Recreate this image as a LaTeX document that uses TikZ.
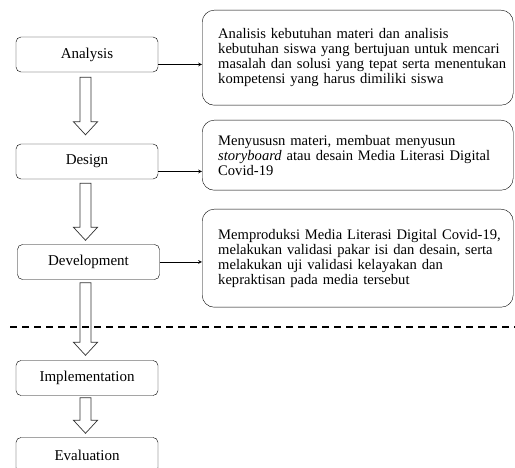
\documentclass[tikz,border=0pt]{standalone}
\usepackage{fontspec}
\setmainfont{Liberation Serif}
\usetikzlibrary{calc}

\newcommand\keepline[1]{\mbox{#1}}
\newcommand\hollowarrow[2]{%
\draw[blockarrow] let \p1=(#1), \p2=(#2) in
 (\x1-5.5pt,\y1) -- (\x1-5.5pt,\y2+13pt) -- (\x1-12pt,\y2+13pt) -- (\x1,\y2)
 -- (\x1+12pt,\y2+13pt) -- (\x1+5.5pt,\y2+13pt) -- (\x1+5.5pt,\y1) -- cycle;}

\begin{document}
\begin{tikzpicture}
[
x = 1pt, y = -1pt,
>=stealth,
phase/.style = {draw, rounded corners = 5pt, minimum width = 142pt, minimum height = 35pt,
  inner sep = 0pt, font = \fontsize{15}{15}\selectfont},
descbox/.style = {draw, rounded corners = 12pt, anchor = north west, align = left,
  text width = 279pt, inner xsep = 16pt, inner ysep = 0pt, font = \fontsize{14.6}{15}\selectfont},
blockarrow/.style = {draw = black!80, line width = 0.7pt, fill = white},
link/.style = {->, line width = 0.7pt},
]

\clip (0,0) rectangle (515,468);

\node (ana) at (87,54.5) [phase] {Analysis};
\node (des) at (87,161.5) [phase] {Design};
\node (dev) at (88.5,262) [phase] {Development};
\node (imp) at (87,378) [phase] {Implementation};
\node (eva) at (87,455) [phase] {Evaluation};

\node (dana) at (202,10) [descbox, minimum height = 95pt] {\keepline{Analisis kebutuhan materi dan analisis}\\
\keepline{kebutuhan siswa yang bertujuan untuk mencari}\\
\keepline{masalah dan solusi yang tepat serta menentukan}\\
\keepline{kompetensi yang harus dimiliki siswa}};

\node (ddes) at (202,120) [descbox, minimum height = 70pt] {\keepline{Menyususn materi, membuat menyusun}\\
\keepline{\textit{storyboard} atau desain Media Literasi Digital}\\
Covid-19};

\node (ddev) at (202,209) [descbox, minimum height = 98pt] {\keepline{Memproduksi Media Literasi Digital Covid-19,}\\
\keepline{melakukan validasi pakar isi dan desain, serta}\\
\keepline{melakukan uji validasi kelayakan dan}\\
\keepline{kepraktisan pada media tersebut}};

\draw[link] ([yshift=-10pt]ana.east) -- ([yshift=-10pt]ana.east -| dana.west);
\draw[link] ([yshift=-10pt]des.east) -- ([yshift=-10pt]des.east -| ddes.west);
\draw[link] (dev.east) -- (dev.east -| ddev.west);

\hollowarrow{$(ana.south)+(-1.5,5)$}{$(des.north)+(-1.5,-9)$}
\hollowarrow{$(des.south)+(-1.5,4)$}{$(dev.north)+(-3,-4)$}
\hollowarrow{$(dev.south)+(-3,3)$}{$(imp.north)+(-1.5,-5)$}
\hollowarrow{$(imp.south)+(-1.5,2)$}{$(eva.north)+(-1.5,-4)$}

\draw[line width = 1.2pt, dash pattern = on 7pt off 5pt] (10,327) -- (515,327);
\end{tikzpicture}
\end{document}
